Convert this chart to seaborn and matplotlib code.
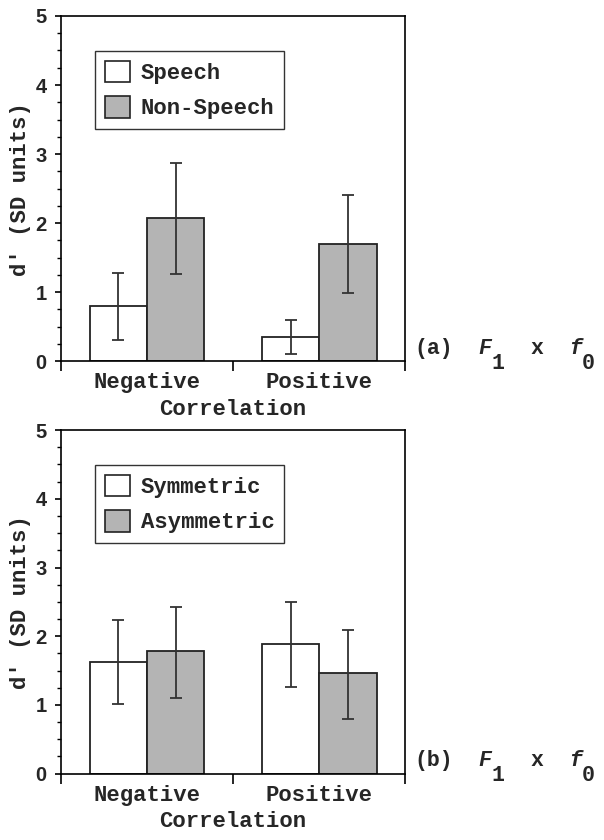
import matplotlib
matplotlib.use("Agg")
import matplotlib.pyplot as plt
import seaborn as sns
import pandas as pd
import numpy as np

# data
correlations = ["Negative", "Positive"]

labels_a = ["Speech", "Non-Speech"]
means_a = [[0.80, 0.35], [2.07, 1.70]]
lower_a = [[0.30, 0.11], [1.26, 0.99]]
upper_a = [[1.28, 0.60], [2.87, 2.40]]

labels_b = ["Symmetric", "Asymmetric"]
means_b = [[1.62, 1.88], [1.78, 1.46]]
lower_b = [[1.01, 1.26], [1.10, 0.80]]
upper_b = [[2.24, 2.50], [2.43, 2.09]]

y_ticks = [0, 1, 2, 3, 4, 5]

MONO = "Liberation Mono"
SANS = "Liberation Sans"
FS = 16
EDGE = "#222222"
GREY = "#b4b4b4"

sns.set_style("ticks")
plt.rcParams["font.family"] = [MONO, "DejaVu Sans"]


def make_panel(ax, labels, means, lower, upper, tag):
    rows = []
    for g, lab in enumerate(labels):
        for c, corr in enumerate(correlations):
            rows.append({"Correlation": corr, "group": lab, "d": means[g][c]})
    df = pd.DataFrame(rows)

    sns.barplot(data=df, x="Correlation", y="d", hue="group", hue_order=labels,
                order=correlations, palette=["white", GREY], edgecolor=EDGE,
                linewidth=1.3, width=0.667, errorbar=None, saturation=1, ax=ax)

    # error bars on top of each bar (bar containers only)
    bar_conts = list(ax.containers)
    for g, cont in enumerate(bar_conts):
        for c, bar in enumerate(cont.patches):
            xc = bar.get_x() + bar.get_width() / 2
            m = means[g][c]
            ax.errorbar([xc], [m], yerr=[[m - lower[g][c]], [upper[g][c] - m]],
                        fmt="none", ecolor="#333333", elinewidth=1.3,
                        capsize=4, capthick=1.3, zorder=5)

    ax.set_xlim(-0.5, 1.5)
    ax.set_ylim(0, 5)
    ax.set_yticks(y_ticks)
    ax.set_yticks(np.arange(0, 5.01, 0.25), minor=True)
    ax.set_yticklabels([str(t) for t in y_ticks], fontfamily=SANS,
                       fontweight="bold", fontsize=14.5)
    ax.tick_params(axis="y", which="major", direction="out", length=4.5,
                   width=1.2, pad=6, color="black")
    ax.tick_params(axis="y", which="minor", direction="out", length=3,
                   width=1.0, color="black")

    ax.set_xticks([0, 1])
    ax.set_xticklabels(correlations, fontweight="bold", fontsize=FS)
    ax.set_xticks([-0.5, 0.5, 1.5], minor=True)
    ax.tick_params(axis="x", which="major", length=0, pad=8)
    ax.tick_params(axis="x", which="minor", direction="out", length=7,
                   width=1.2, color="black")

    ax.set_xlabel("Correlation", fontweight="bold", fontsize=FS, labelpad=4)
    ax.set_ylabel("d' (SD units)", fontweight="bold", fontsize=FS)
    ax.yaxis.set_label_coords(-0.088, 0.5)

    for s in ax.spines.values():
        s.set_visible(True)
        s.set_color("black")
        s.set_linewidth(1.2)

    old = ax.get_legend()
    handles = old.legend_handles
    texts = [t.get_text() for t in old.get_texts()]
    old.remove()
    leg = ax.legend(handles, texts, loc="upper left",
                    bbox_to_anchor=(0.099, 0.899), borderaxespad=0,
                    frameon=True, fancybox=False, edgecolor="black",
                    handlelength=1.1, handleheight=1.1, handletextpad=0.5,
                    labelspacing=0.55, borderpad=0.45,
                    prop={"family": MONO, "weight": "bold", "size": FS})
    leg.get_frame().set_linewidth(1.0)
    for h in leg.legend_handles:
        h.set_edgecolor(EDGE)
        h.set_linewidth(1.2)

    # panel tag "(a)  F1 x  f0" in monospace cells
    tfs = 15.5
    cw = 0.6 * tfs
    pieces = [(tag, 0, 0, "normal"), ("F", 5, 0, "italic"), ("1", 6, -11, "normal"),
              ("x", 9, 0, "normal"), ("f", 12, 0, "italic"), ("0", 13, -11, "normal")]
    for txt, idx, dy, style in pieces:
        ax.annotate(txt, xy=(1.025, 0.022), xycoords="axes fraction",
                    xytext=(idx * cw, dy), textcoords="offset points",
                    ha="left", va="baseline", fontsize=tfs, fontstyle=style,
                    fontweight="bold", fontfamily=MONO, annotation_clip=False)


fig = plt.figure(figsize=(6.04, 8.4), dpi=100)
ax1 = fig.add_axes([0.101, 0.570, 0.570, 0.411])
ax2 = fig.add_axes([0.101, 0.079, 0.570, 0.409])

make_panel(ax1, labels_a, means_a, lower_a, upper_a, "(a)")
make_panel(ax2, labels_b, means_b, lower_b, upper_b, "(b)")

fig.savefig("out.png", dpi=100)
